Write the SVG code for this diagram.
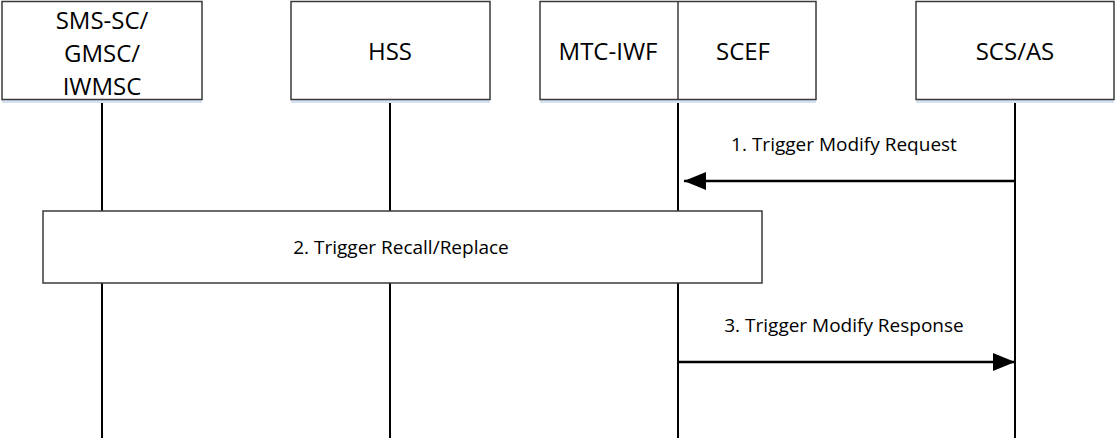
<svg xmlns="http://www.w3.org/2000/svg" width="1115" height="438" viewBox="0 0 1115 438">
<style>
.box{fill:#fff;stroke:#3a3a3a;stroke-width:1.5}
.shadow{fill:#d5e2f2}
.life{stroke:#000;stroke-width:2;fill:none}
.msg{stroke:#000;stroke-width:2.5;fill:none}
.t{font-family:"Open Sans","Liberation Sans",sans-serif;fill:#000;text-anchor:middle}
.n{font-size:24px}
.m{font-size:19px}
</style>
<defs>
<marker id="ah" viewBox="0 0 22 18" refX="22" refY="9" markerWidth="22" markerHeight="18" markerUnits="userSpaceOnUse" orient="auto">
<path d="M0,0 L22,9 L0,18 Z" fill="#000"/>
</marker>
</defs>
<g id="lifelines">
<line class="life" x1="102" y1="100" x2="102" y2="438"/>
<line class="life" x1="390" y1="100" x2="390" y2="438"/>
<line class="life" x1="678" y1="100" x2="678" y2="438"/>
<line class="life" x1="1015" y1="100" x2="1015" y2="438"/>
</g>
<g id="node-smssc">
<rect class="shadow" x="2" y="100" width="200" height="3"/>
<rect class="box" x="2" y="1.5" width="200" height="98"/>
<text class="t n" x="102" y="29">SMS-SC/</text>
<text class="t n" x="102" y="62">GMSC/</text>
<text class="t n" x="102" y="95">IWMSC</text>
</g>
<g id="node-hss">
<rect class="shadow" x="291" y="100" width="199" height="3"/>
<rect class="box" x="291" y="1.5" width="199" height="98"/>
<text class="t n" x="390" y="60">HSS</text>
</g>
<g id="node-mtciwf-scef">
<rect class="shadow" x="540" y="100" width="276" height="3"/>
<rect class="box" x="540" y="1.5" width="276" height="98"/>
<line x1="678" y1="1.5" x2="678" y2="99.5" stroke="#3a3a3a" stroke-width="1.5"/>
<text class="t n" x="608" y="60">MTC-IWF</text>
<text class="t n" x="743" y="60">SCEF</text>
</g>
<g id="node-scsas">
<rect class="shadow" x="916" y="100" width="198" height="3"/>
<rect class="box" x="916" y="1.5" width="198" height="98"/>
<text class="t n" x="1015" y="60">SCS/AS</text>
</g>
<g id="connectors">
<line class="msg" x1="1015" y1="181" x2="684" y2="181" marker-end="url(#ah)"/>
<text class="t m" x="844" y="151">1. Trigger Modify Request</text>
<line class="msg" x1="678" y1="362" x2="1015" y2="362" marker-end="url(#ah)"/>
<text class="t m" x="844" y="332">3. Trigger Modify Response</text>
</g>
<g id="node-recall">
<rect class="box" x="43" y="211" width="719" height="72" stroke="#555"/>
<text class="t m" x="401" y="254">2. Trigger Recall/Replace</text>
</g>
</svg>
